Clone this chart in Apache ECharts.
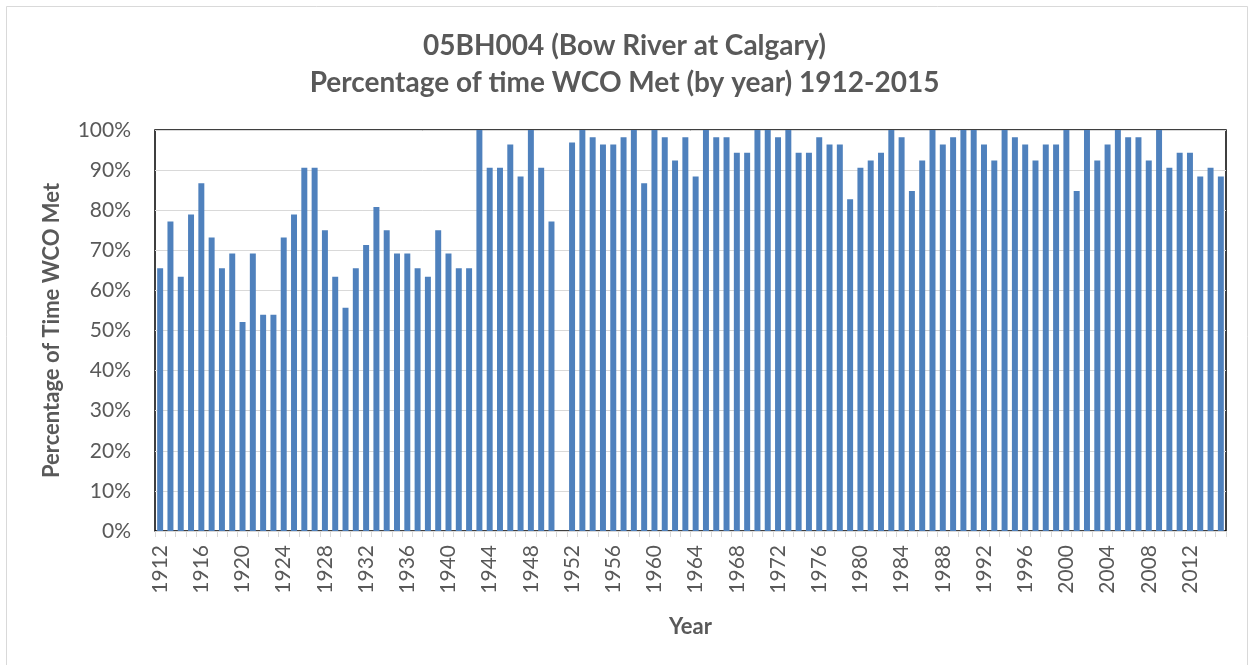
<!DOCTYPE html>
<html>
<head>
<meta charset="utf-8">
<script src="https://cdn.jsdelivr.net/npm/echarts@6/dist/echarts.min.js"></script>
<style>
html,body{margin:0;padding:0;background:#fff;}
#chart{width:1249px;height:665px;}
</style>
</head>
<body>
<div id="chart"></div>
<script>
const titleLines = ['05BH004 (Bow River at Calgary)', 'Percentage of time WCO Met (by year) 1912-2015'];
const yAxisTitle = 'Percentage of Time WCO Met';
const xAxisTitle = 'Year';
const years = [];
for (let y = 1912; y <= 2015; y++) years.push(String(y));
const percentMet = [
  65.5, 77.2, 63.4, 78.9, 86.7, 73.2, 65.5, 69.2, 52.1, 69.2,   // 1912-1921
  53.9, 53.9, 73.2, 78.9, 90.6, 90.6, 75.0, 63.4, 55.7, 65.5,   // 1922-1931
  71.3, 80.8, 75.0, 69.2, 69.2, 65.5, 63.4, 75.0, 69.2, 65.5,   // 1932-1941
  65.5, 100, 90.6, 90.6, 96.4, 88.4, 100, 90.6, 77.2, null,     // 1942-1951
  96.9, 100, 98.2, 96.4, 96.4, 98.2, 100, 86.7, 100, 98.2,      // 1952-1961
  92.4, 98.2, 88.4, 100, 98.2, 98.2, 94.3, 94.3, 100, 100,      // 1962-1971
  98.2, 100, 94.3, 94.3, 98.2, 96.4, 96.4, 82.7, 90.6, 92.4,    // 1972-1981
  94.3, 100, 98.2, 84.8, 92.4, 100, 96.4, 98.2, 100, 100,       // 1982-1991
  96.4, 92.4, 100, 98.2, 96.4, 92.4, 96.4, 96.4, 100, 84.8,     // 1992-2001
  100, 92.4, 96.4, 100, 98.2, 98.2, 92.4, 100, 90.6, 94.3,      // 2002-2011
  94.3, 88.4, 90.6, 88.4                                        // 2012-2015
];
const yTicks = [0, 10, 20, 30, 40, 50, 60, 70, 80, 90, 100];

const FONT = 'Lato, "Open Sans", sans-serif';
const chart = echarts.init(document.getElementById('chart'));
chart.setOption({
  animation: false,
  backgroundColor: '#fff',
  graphic: [{
    type: 'rect',
    shape: { x: 6.5, y: 6.5, width: 1241, height: 670 },
    style: { fill: 'none', stroke: '#d9d9d9', lineWidth: 1 },
    silent: true
  }],
  title: {
    text: titleLines.join('\n'),
    left: 'center',
    top: 22,
    textStyle: { fontFamily: FONT, fontSize: 28, fontWeight: 'bold', color: '#595959', lineHeight: 37 }
  },
  grid: {
    left: 155, right: 23, top: 130, bottom: 134,
    show: true, borderColor: '#000', borderWidth: 1.5, backgroundColor: 'transparent'
  },
  xAxis: {
    type: 'category',
    data: years,
    name: xAxisTitle,
    nameLocation: 'middle',
    nameGap: 85,
    nameTextStyle: { fontFamily: FONT, fontSize: 22, fontWeight: 'bold', color: '#595959' },
    axisLine: { show: true, lineStyle: { color: '#d9d9d9', width: 1 } },
    axisTick: { show: true, interval: 0, length: 6, lineStyle: { color: '#d9d9d9' } },
    axisLabel: {
      interval: 3, rotate: 90, margin: 14,
      fontFamily: FONT, fontSize: 21, color: '#595959'
    },
    splitLine: { show: false }
  },
  yAxis: {
    type: 'value',
    min: 0, max: 100, interval: 10,
    name: yAxisTitle,
    nameLocation: 'middle',
    nameGap: 92,
    nameTextStyle: { fontFamily: FONT, fontSize: 22, fontWeight: 'bold', color: '#595959' },
    axisLine: { show: false },
    axisTick: { show: false },
    axisLabel: {
      margin: 24, fontFamily: FONT, fontSize: 21, color: '#595959',
      formatter: function (v) { return yTicks.indexOf(v) >= 0 ? v + '%' : ''; }
    },
    splitLine: { show: true, lineStyle: { color: '#d9d9d9', width: 1 } }
  },
  series: [{
    type: 'bar',
    data: percentMet,
    barCategoryGap: '42%',
    itemStyle: { color: '#4f81bd' }
  }]
});
</script>
</body>
</html>
